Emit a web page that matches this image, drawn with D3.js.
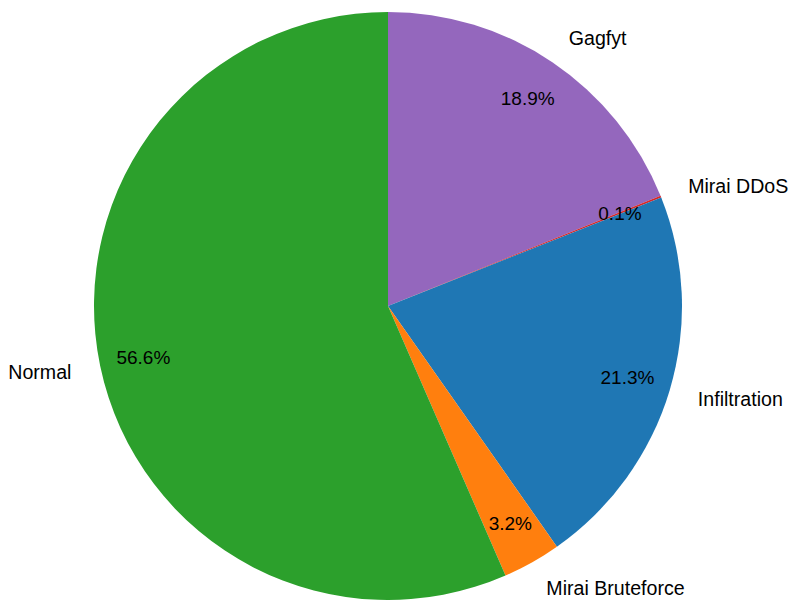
<!DOCTYPE html>
<html>
<head>
<meta charset="utf-8">
<script src="https://cdn.jsdelivr.net/npm/d3@7"></script>
<style>
  html, body { margin: 0; padding: 0; background: #ffffff; }
  svg { display: block; }
  text { font-family: "Liberation Sans", Arial, sans-serif; fill: #000; }
</style>
</head>
<body>
<script>
// Traffic class shares, listed clockwise from 12 o'clock
const categories = ["Gagfyt", "Mirai DDoS", "Infiltration", "Mirai Bruteforce", "Normal"];
const shares = [18.9, 0.1, 21.3, 3.2, 56.6];
const colors = ["#9467bd", "#d62728", "#1f77b4", "#ff7f0e", "#2ca02c"];

const width = 795, height = 600;
const cx = 388, cy = 306, radius = 294;
const pctDistance = 0.85, labelDistance = 1.1;

const svg = d3.select("body").append("svg")
  .attr("width", width)
  .attr("height", height);

const g = svg.append("g").attr("transform", `translate(${cx},${cy})`);

const data = categories.map((c, i) => ({ name: c, value: shares[i], color: colors[i] }));

const pie = d3.pie().sort(null).value(d => d.value);
const arcs = pie(data);

const arc = d3.arc().innerRadius(0).outerRadius(radius);
const pctArc = d3.arc().innerRadius(radius * pctDistance).outerRadius(radius * pctDistance);
const labelArc = d3.arc().innerRadius(radius * labelDistance).outerRadius(radius * labelDistance);

g.selectAll("path.slice")
  .data(arcs)
  .join("path")
  .attr("class", "slice")
  .attr("d", arc)
  .attr("fill", d => d.data.color);

// Percentage labels inside the wedges
g.selectAll("text.pct")
  .data(arcs)
  .join("text")
  .attr("class", "pct")
  .attr("transform", d => `translate(${pctArc.centroid(d)})`)
  .attr("text-anchor", "middle")
  .attr("dominant-baseline", "central")
  .attr("font-size", 19)
  .text(d => d3.format(".1f")(d.data.value) + "%");

// Category labels outside the wedges
g.selectAll("text.label")
  .data(arcs)
  .join("text")
  .attr("class", "label")
  .attr("transform", d => `translate(${labelArc.centroid(d)})`)
  .attr("text-anchor", d => labelArc.centroid(d)[0] < 0 ? "end" : "start")
  .attr("dominant-baseline", "central")
  .attr("font-size", 19.6)
  .text(d => d.data.name);
</script>
</body>
</html>
